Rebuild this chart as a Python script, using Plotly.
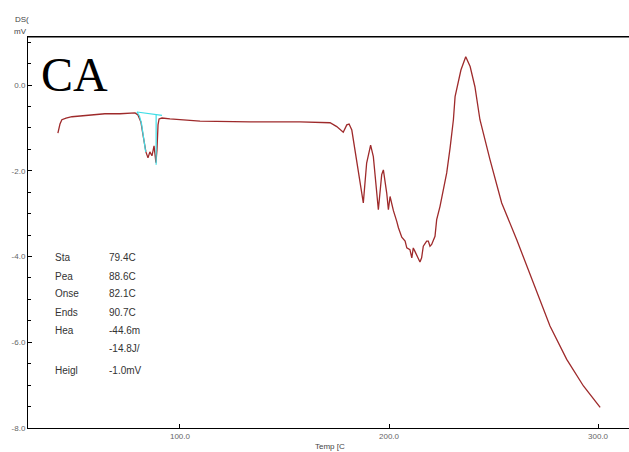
import plotly.graph_objects as go

# DSC curve (Temperature in C, DSC in mV)
temp = [41.6, 42.1, 42.6, 43.5, 45.5, 48.3, 52.2, 57.9, 64.1, 71.3, 78.5, 79.9,
        81.3, 82.3, 83.3, 83.7, 84.7, 85.6, 86.6, 87.6, 88.5, 89.0, 89.5, 90.0,
        91.4, 95.2, 109.6, 133.5, 157.4, 171.8, 175.0, 178.1, 179.8, 180.9,
        182.2, 183.7, 185.3, 187.7, 189.3, 191.2, 192.5, 194.9, 196.5, 197.3,
        198.9, 199.7, 200.5, 202.1, 203.7, 204.5, 206.1, 207.7, 208.5, 210.0,
        210.9, 211.6, 212.4, 214.0, 214.8, 215.6, 216.4, 218.0, 218.8, 219.6,
        220.4, 222.0, 222.8, 224.4, 226.0, 227.6, 229.2, 230.8, 231.6, 233.2,
        234.4, 236.7, 238.8, 241.1, 242.7, 243.5, 248.3, 253.9, 261.1, 269.0,
        277.0, 285.0, 293.0, 301.0]
dsc = [-1.12, -1.00, -0.91, -0.81, -0.77, -0.74, -0.72, -0.70, -0.67, -0.67, -0.65, -0.70,
       -0.86, -1.16, -1.47, -1.56, -1.70, -1.56, -1.65, -1.42, -1.81, -1.51, -0.93, -0.79,
       -0.77, -0.79, -0.84, -0.86, -0.86, -0.88, -0.97, -1.10, -0.93, -0.91,
       -1.05, -1.51, -2.05, -2.75, -1.82, -1.40, -1.67, -2.91, -2.09, -1.98,
       -2.52, -2.91, -2.60, -2.93, -3.18, -3.33, -3.55, -3.64, -3.80, -3.84,
       -4.03, -3.80, -3.88, -4.03, -4.13, -4.03, -3.76, -3.64, -3.64, -3.76,
       -3.72, -3.53, -3.14, -2.83, -2.44, -2.05, -1.47, -0.81, -0.27, 0.12,
       0.35, 0.66, 0.43, -0.04, -0.51, -0.81, -1.74, -2.75, -3.61, -4.61,
       -5.62, -6.40, -7.02, -7.52]

# Peak evaluation (cyan)
base_t = [79.4, 91.4]
base_v = [-0.63, -0.71]
onset_t = [79.4, 80.6, 81.6, 82.4, 83.0, 83.6]
onset_v = [-0.63, -0.72, -0.90, -1.18, -1.45, -1.56]
peak_t = [88.6, 88.6]
peak_v = [-0.68, -1.86]

labels = ["Sta", "Pea", "Onse", "Ends", "Hea", "", "Heigl"]
values = ["79.4C", "88.6C", "82.1C", "90.7C", "-44.6m", "-14.8J/", "-1.0mV"]

yticks = [0, -2, -4, -6, -8]
ytext = ["0.0", "-2.0", "-4.0", "-6.0", "-8.0"]
xticks = [100, 200, 300]
xtext = ["100.0", "200.0", "300.0"]

fig = go.Figure()
fig.add_trace(go.Scatter(x=temp, y=dsc, mode="lines",
                         line=dict(color="#9e2a2b", width=1.3), hoverinfo="skip"))
fig.add_trace(go.Scatter(x=base_t, y=base_v, mode="lines",
                         line=dict(color="#3fdde6", width=1.2)))
fig.add_trace(go.Scatter(x=onset_t, y=onset_v, mode="lines",
                         line=dict(color="#3fdde6", width=1.2)))
fig.add_trace(go.Scatter(x=peak_t, y=peak_v, mode="lines",
                         line=dict(color="#3fdde6", width=1.2)))

tickfont = dict(family="Liberation Sans, Arial, sans-serif", size=8, color="#666")

fig.update_layout(
    width=629, height=452,
    margin=dict(l=28, r=0, t=37, b=24, autoexpand=False),
    paper_bgcolor="white", plot_bgcolor="white",
    showlegend=False,
    xaxis=dict(range=[27.3, 314.8], tickvals=xticks, ticktext=xtext,
               ticks="inside", ticklen=4, tickcolor="black",
               showline=True, linecolor="black", linewidth=1, mirror=True,
               showgrid=False, zeroline=False, tickfont=tickfont, automargin=False),
    yaxis=dict(range=[-8.0, 1.12], tickvals=yticks, ticktext=ytext,
               ticks="inside", ticklen=4, tickcolor="black",
               minor=dict(dtick=0.5, ticks="inside", ticklen=3, tickcolor="black"),
               showline=True, linecolor="black", linewidth=1,
               showgrid=False, zeroline=False, tickfont=tickfont, automargin=False),
)
# top frame line
fig.add_shape(type="line", xref="paper", yref="paper", x0=0, x1=1, y0=1, y1=1,
              line=dict(color="black", width=1))

ann_font = dict(family="Liberation Sans, Arial, sans-serif", size=8, color="#444")
fig.add_annotation(text="DS(", xref="paper", yref="paper", x=-0.025, y=1.046,
                   xanchor="left", yanchor="middle", showarrow=False, font=ann_font)
fig.add_annotation(text="mV", xref="paper", yref="paper", x=-0.027, y=1.015,
                   xanchor="left", yanchor="middle", showarrow=False, font=ann_font)
fig.add_annotation(text="Temp [C", xref="paper", yref="paper", x=0.5025, y=-0.0465,
                   xanchor="center", yanchor="middle", showarrow=False, font=ann_font)
fig.add_annotation(text="CA", xref="paper", yref="paper", x=0.018, y=0.905,
                   xanchor="left", yanchor="middle", showarrow=False,
                   font=dict(family="Liberation Serif, Times New Roman, serif", size=48, color="black"))

rows_px = [257, 276, 293, 312, 330, 348, 370]
tbl_font = dict(family="Liberation Sans, Arial, sans-serif", size=10, color="#333")
for lab, val, py in zip(labels, values, rows_px):
    yp = (428 - py) / 391
    if lab:
        fig.add_annotation(text=lab, xref="paper", yref="paper", x=(53 - 28) / 601, y=yp,
                           xanchor="left", yanchor="middle", showarrow=False, font=tbl_font)
    fig.add_annotation(text=val, xref="paper", yref="paper", x=(107 - 28) / 601, y=yp,
                       xanchor="left", yanchor="middle", showarrow=False, font=tbl_font)

fig.write_html(
    "out.html",
    config={"displayModeBar": False},
    post_script="document.body.style.margin='0';document.body.style.overflow='hidden';",
)
